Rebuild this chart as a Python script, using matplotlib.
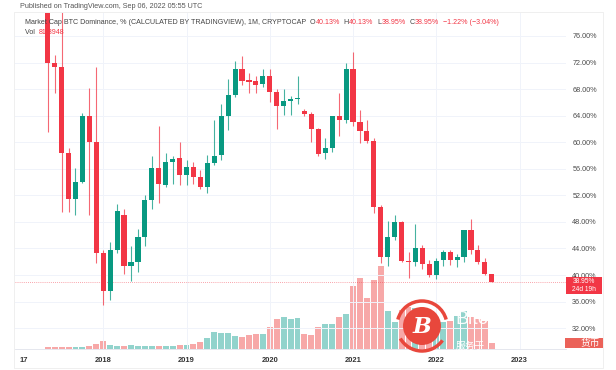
import matplotlib.pyplot as plt
from matplotlib.patches import Rectangle, Circle, Arc

W, H = 616, 370

# monthly BTC dominance candles, May 2017 .. Sep 2022 (month index 0 = Jan 2017)
first_month = 4
opens = [80.5, 72.0, 71.3, 58.4, 51.4, 54.0, 63.9, 60.1,
         43.3, 37.6, 43.8, 49.0, 41.3, 42.0, 45.8, 51.3, 56.1, 53.6, 57.0, 57.6,
         55.0, 56.2, 54.8, 53.2, 56.8, 58.1, 63.9, 67.1, 71.0, 69.3, 69.2, 68.7,
         70.0, 67.5, 65.4, 66.2, 66.5, 64.7, 64.3, 62.0, 58.4, 59.2, 63.9, 63.3,
         71.0, 63.1, 61.7, 60.2, 50.2, 42.7, 45.8, 48.0, 42.1, 42.0, 44.0, 41.6,
         40.0, 42.2, 43.5, 42.2, 42.7, 46.8, 43.8, 42.0, 40.13]
highs = [81.0, 73.2, 80.0, 59.1, 56.1, 64.4, 68.2, 71.4,
         43.8, 44.9, 50.7, 50.0, 44.3, 46.9, 52.0, 57.9, 62.5, 58.4, 57.9, 60.0,
         57.3, 57.0, 55.8, 58.1, 63.4, 65.7, 69.5, 72.3, 73.0, 70.4, 69.9, 71.0,
         71.0, 68.0, 68.0, 67.0, 69.9, 65.0, 64.6, 62.2, 60.6, 64.0, 67.4, 72.0,
         73.6, 64.8, 63.4, 60.6, 50.6, 48.2, 49.0, 48.2, 43.5, 47.7, 44.5, 42.2,
         42.5, 43.8, 43.8, 43.2, 46.8, 48.5, 44.5, 42.5, 40.13]
lows = [61.6, 67.4, 49.5, 49.5, 49.1, 53.8, 49.0, 41.8,
        35.5, 36.2, 43.3, 40.1, 39.1, 40.4, 44.3, 50.0, 50.9, 53.3, 53.7, 53.6,
        53.6, 53.7, 52.9, 52.3, 56.5, 57.3, 61.9, 66.8, 68.6, 67.4, 67.4, 68.3,
        66.1, 62.0, 64.1, 64.1, 65.7, 64.0, 60.1, 57.9, 57.4, 58.6, 61.0, 62.9,
        62.4, 59.9, 59.9, 49.4, 41.8, 41.3, 45.3, 41.9, 39.5, 41.3, 40.9, 39.7,
        39.4, 41.3, 41.5, 41.2, 41.9, 43.2, 41.6, 40.0, 38.95]
closes = [72.0, 71.3, 58.4, 51.4, 54.0, 63.9, 60.1, 43.3,
          37.6, 43.7, 49.6, 41.3, 42.0, 45.7, 51.3, 56.1, 53.7, 57.0, 57.5, 55.0,
          56.2, 54.8, 53.2, 56.8, 57.9, 63.9, 67.1, 71.0, 69.2, 69.1, 68.6, 70.0,
          67.5, 65.4, 66.2, 66.5, 66.6, 64.3, 62.0, 58.3, 59.2, 63.9, 63.3, 71.0,
          63.1, 61.7, 60.2, 50.2, 42.7, 45.8, 48.0, 42.1, 42.0, 44.0, 41.6, 40.0,
          42.1, 43.5, 42.2, 42.7, 46.8, 43.8, 42.0, 40.2, 38.95]
volume = [1.5, 1.5, 1.5, 2.0, 2.0, 2.0, 2.5, 5.2,
          8.2, 4.2, 3.2, 3.2, 4.2, 2.8, 2.8, 2.8, 2.8, 2.5, 2.8, 3.5,
          3.5, 4.5, 6.5, 10.5, 16.8, 15.8, 15.5, 12.5, 11.8, 13.8, 15.2, 14.8,
          21.5, 30.2, 31.8, 29.5, 30.8, 15.2, 13.8, 21.5, 24.5, 25.2, 32.2, 34.8,
          63.2, 71.2, 50.8, 69.2, 82.5, 37.5, 27.2, 39.0, 41.5, 40.8, 38.5, 35.8,
          30.8, 26.5, 27.5, 32.5, 38.2, 31.5, 29.5, 27.5, 5.5]
months = list(range(first_month, first_month + len(opens)))

year_ticks = [12, 24, 36, 48, 60, 72]
year_labels = ['2018', '2019', '2020', '2021', '2022', '2023']
price_ticks = [32, 36, 40, 44, 48, 52, 56, 60, 64, 68, 72, 76]
last_close = 38.95

UP, DOWN = '#089981', '#f23645'
UP_VOL, DOWN_VOL = '#92d3cc', '#f7a8a8'
GRID = '#f0f3fa'
TXT = '#4a4a4a'

plt.rcParams['font.family'] = ['Liberation Sans', 'Noto Sans CJK SC', 'DejaVu Sans']

fig = plt.figure(figsize=(W / 100, H / 100), dpi=100)


def px(x0, y0, x1, y1):
    return [x0 / W, 1 - y1 / H, (x1 - x0) / W, (y1 - y0) / H]


ax = fig.add_axes(px(15, 13, 566, 349))
axv = ax.twinx()
ax.set_zorder(axv.get_zorder() + 1)
ax.patch.set_visible(False)

# volume overlay
vcol = [UP_VOL if c >= o else DOWN_VOL for o, c in zip(opens, closes)]
axv.bar(months, volume, width=0.86, color=vcol, linewidth=0)
axv.set_ylim(0, max(volume) / 0.246)
axv.set_yticks([])
for s in axv.spines.values():
    s.set_visible(False)

# candles
for m, o, h, l, c in zip(months, opens, highs, lows, closes):
    col = UP if c >= o else DOWN
    ax.vlines(m, l, h, color=col, linewidth=0.8, alpha=0.75, zorder=2)
    ax.bar(m, max(abs(c - o), 0.18), bottom=min(o, c), width=0.74,
           color=col, linewidth=0, zorder=3)

ax.axhline(last_close, color=DOWN, linestyle=(0, (1, 1.5)), linewidth=0.6,
           alpha=0.6, zorder=1)

ax.set_xlim(-0.72, 78.7)
ax.set_ylim(28.86, 79.46)
ax.set_xticks(year_ticks)
ax.set_xticklabels(year_labels)
ax.set_yticks(price_ticks)
ax.set_yticklabels([f'{p:.2f}%' for p in price_ticks])
ax.yaxis.tick_right()
ax.tick_params(axis='y', length=0, pad=4.5, labelsize=5.2, labelcolor=TXT)
ax.tick_params(axis='x', length=0, pad=6, labelsize=5.4, labelcolor='#333333')
for lab in ax.get_xticklabels():
    lab.set_fontweight('bold')
ax.grid(True, color=GRID, linewidth=0.7, zorder=0)
ax.set_axisbelow(True)
for k, s in ax.spines.items():
    s.set_visible(k == 'bottom')
ax.spines['bottom'].set_color('#e0e3eb')
ax.spines['bottom'].set_linewidth(0.6)

# overlay in pixel coordinates for legend, labels and watermark
ov = fig.add_axes([0, 0, 1, 1], zorder=10)
ov.set_xlim(0, W)
ov.set_ylim(H, 0)
ov.axis('off')

ov.add_patch(Rectangle((14, 12), 589, 356, fill=False, edgecolor='#ececec', linewidth=0.6))
ov.text(24, 361, '17', fontsize=5.4, fontweight='bold', color='#333333', ha='center', va='center')
ov.text(20, 7, 'Published on TradingView.com, Sep 06, 2022 05:55 UTC',
        fontsize=5.2, color='#555555', va='center')


def chain(x, y, pieces, size):
    t = ov.text(x, y, pieces[0][0], color=pieces[0][1], fontsize=size, va='center')
    for s, c in pieces[1:]:
        t = ov.annotate(s, xy=(1, 0.5), xycoords=t, va='center', ha='left',
                        color=c, fontsize=size)
    return t


chain(25, 22, [('Market Cap BTC Dominance, % (CALCULATED BY TRADINGVIEW), 1M, CRYPTOCAP  ', '#444444'),
               ('O', '#444444'), ('40.13%', DOWN), ('  H', '#444444'), ('40.13%', DOWN),
               ('  L', '#444444'), ('38.95%', DOWN), ('  C', '#444444'), ('38.95%', DOWN),
               ('  \u22121.22% (\u22123.04%)', DOWN)], 5.1)
chain(25, 32, [('Vol  ', '#444444'), ('81.8948', DOWN)], 5.1)

# last price tag
ov.add_patch(Rectangle((566, 277), 36, 17, color=DOWN, linewidth=0))
ov.text(584, 281.5, '38.95%', color='white', fontsize=4.8, ha='center', va='center')
ov.text(584, 289.5, '24d 19h', color='white', fontsize=4.8, ha='center', va='center')

# watermark
ov.add_patch(Arc((422, 326), 50, 50, theta1=195, theta2=345, color='#e8473c', linewidth=2.5))
ov.add_patch(Arc((422, 326), 50, 50, theta1=35, theta2=150, color='#e8473c', linewidth=2.5))
ov.add_patch(Circle((422, 326), 19, color='#e8473c', linewidth=0))
ov.text(422, 327, 'B', color='white', fontsize=16, fontweight='bold', style='italic',
        family='DejaVu Serif', ha='center', va='center')
ov.text(455, 320, 'Bitc', color='white', fontsize=14, va='center', alpha=0.95)
ov.text(456, 346, '服务于', color='white', fontsize=7, va='center',
        family=['Noto Sans CJK SC', 'DejaVu Sans'])
ov.add_patch(Rectangle((565, 338), 38, 10, color='#e8473c', alpha=0.85, linewidth=0))
ov.text(600, 343, '货币', color='white', fontsize=7, ha='right', va='center',
        family=['Noto Sans CJK SC', 'DejaVu Sans'])

fig.savefig('out.png', dpi=100)
